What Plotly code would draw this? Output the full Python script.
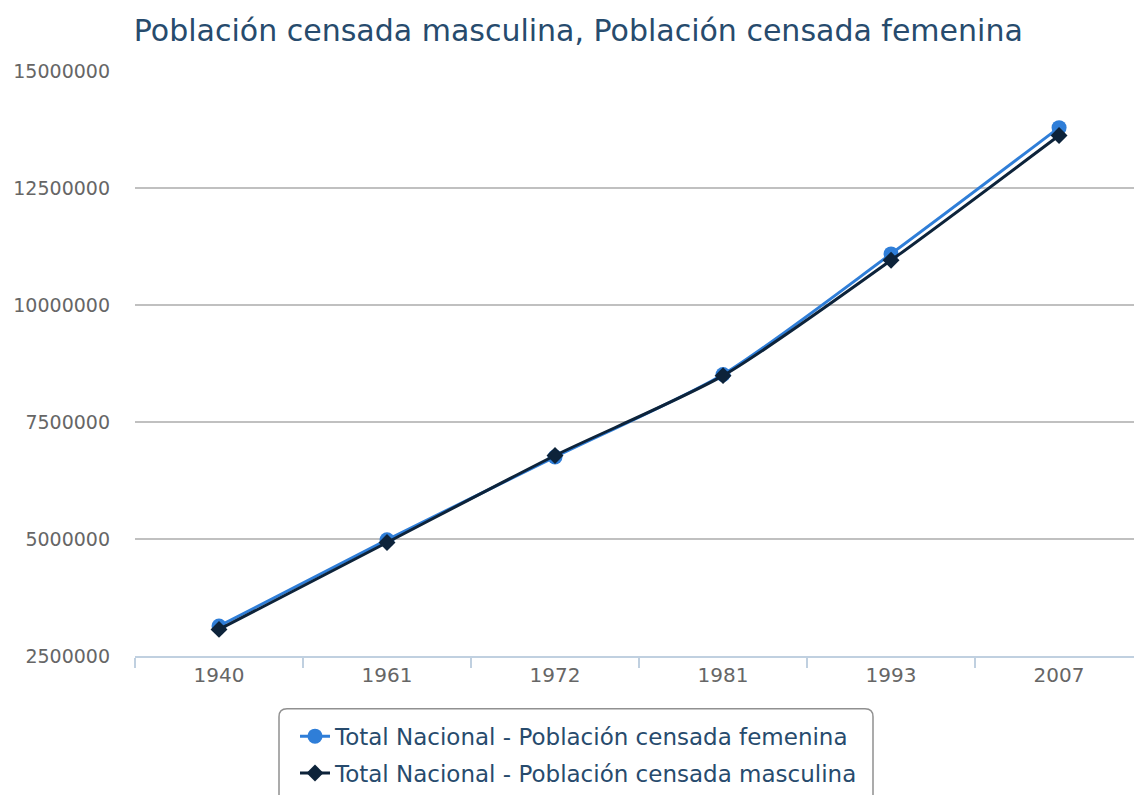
import plotly.graph_objects as go

years = ["1940", "1961", "1972", "1981", "1993", "2007"]
femenina = [3140099, 4981333, 6753682, 8515343, 11091981, 13789517]
masculina = [3067868, 4925413, 6784526, 8489867, 10956375, 13622640]
y_ticks = [2500000, 5000000, 7500000, 10000000, 12500000, 15000000]

title = "Población censada masculina, Población censada femenina"
name_f = "Total Nacional - Población censada femenina"
name_m = "Total Nacional - Población censada masculina"

FONT = "DejaVu Sans"
W, H = 1134, 795
ML, MR, MT, MB = 135, 0, 71, 136
PW, PH = W - ML - MR, H - MT - MB


def px_x(p):
    return (p - ML) / PW


def px_y(p):
    return (H - MB - p) / PH


fig = go.Figure()
fig.add_trace(go.Scatter(
    x=years, y=femenina, name=name_f, mode="lines+markers", legendgroup="f",
    line=dict(color="#2f7ed8", width=3, shape="spline", smoothing=0.7),
    marker=dict(symbol="circle", size=15, color="#2f7ed8"),
))
fig.add_trace(go.Scatter(
    x=years, y=masculina, name=name_m, mode="lines+markers", legendgroup="m",
    line=dict(color="#0d233a", width=3, shape="spline", smoothing=0.7),
    marker=dict(symbol="diamond", size=13, color="#0d233a"),
))

# rounded legend frame
x0, x1, y0, y1, r = 279, 873, 712, 820, 8
path = (f"M {px_x(x0 + r)} {px_y(y0)} L {px_x(x1 - r)} {px_y(y0)} "
        f"Q {px_x(x1)} {px_y(y0)} {px_x(x1)} {px_y(y0 + r)} "
        f"L {px_x(x1)} {px_y(y1 - r)} Q {px_x(x1)} {px_y(y1)} {px_x(x1 - r)} {px_y(y1)} "
        f"L {px_x(x0 + r)} {px_y(y1)} Q {px_x(x0)} {px_y(y1)} {px_x(x0)} {px_y(y1 - r)} "
        f"L {px_x(x0)} {px_y(y0 + r)} Q {px_x(x0)} {px_y(y0)} {px_x(x0 + r)} {px_y(y0)} Z")

fig.update_layout(
    width=W, height=H,
    margin=dict(l=ML, r=MR, t=MT, b=MB),
    paper_bgcolor="white", plot_bgcolor="white",
    title=dict(text=title, x=0.51, xanchor="center", y=0.962, yanchor="middle",
               font=dict(family=FONT, size=30, color="#274b6d")),
    font=dict(family=FONT),
    xaxis=dict(
        type="category", range=[-0.5, 5.446],
        showgrid=False, showline=True, linecolor="#c0d0e0", linewidth=2,
        ticks="outside", tickson="boundaries", ticklen=10, tickcolor="#c0d0e0", tickwidth=2,
        tickfont=dict(family=FONT, size=20, color="#666666"),
        zeroline=False,
    ),
    yaxis=dict(
        range=[2500000, 15000000], tickvals=y_ticks,
        ticktext=[str(v) for v in y_ticks],
        showgrid=True, gridcolor="#c0c0c0", gridwidth=1.5,
        showline=False, zeroline=False, ticks="",
        ticklabelstandoff=24,
        tickfont=dict(family=FONT, size=19, color="#666666"),
    ),
    legend=dict(
        orientation="v", x=px_x((x0 + x1) / 2 + 3), xanchor="center",
        y=px_y(y0 + 6), yanchor="top",
        borderwidth=0, bgcolor="rgba(0,0,0,0)",
        font=dict(family=FONT, size=23, color="#274b6d"),
        tracegroupgap=4, itemwidth=30,
    ),
    shapes=[dict(type="path", path=path, xref="paper", yref="paper",
                 line=dict(color="#909090", width=1.5), fillcolor="rgba(0,0,0,0)",
                 layer="below")],
    showlegend=True,
)

fig.write_html("out.html", config={"displayModeBar": False},
               post_script="document.body.style.margin='0px';document.body.style.overflow='hidden';")
